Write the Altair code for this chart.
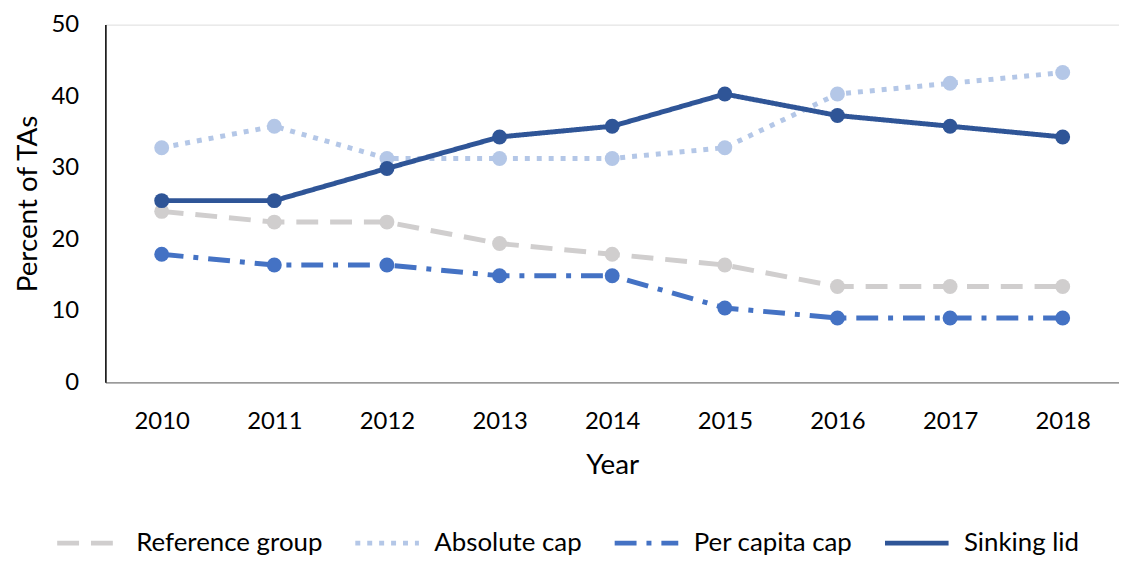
import altair as alt
import pandas as pd

years = ["2010", "2011", "2012", "2013", "2014", "2015", "2016", "2017", "2018"]
series_names = ["Reference group", "Absolute cap", "Per capita cap", "Sinking lid"]
reference_group = [23.9, 22.4, 22.4, 19.4, 17.9, 16.4, 13.4, 13.4, 13.4]
absolute_cap = [32.8, 35.8, 31.3, 31.3, 31.3, 32.8, 40.3, 41.8, 43.3]
per_capita_cap = [17.9, 16.4, 16.4, 14.9, 14.9, 10.4, 9.0, 9.0, 9.0]
sinking_lid = [25.4, 25.4, 29.9, 34.3, 35.8, 40.3, 37.3, 35.8, 34.3]
colors = ["#D0CECE", "#B4C7E7", "#4472C4", "#2F5597"]
dashes = [[22, 12], [5, 7], [22, 10, 5, 10], [1, 0]]

values = [reference_group, absolute_cap, per_capita_cap, sinking_lid]
rows = []
for i, (name, vals) in enumerate(zip(series_names, values)):
    for y, v in zip(years, vals):
        rows.append({"Year": y, "Percent": v, "Series": name, "order": i})
df = pd.DataFrame(rows)

FONT = "Lato"

x = alt.X("Year:O", sort=years, scale=alt.Scale(type="point", padding=0.5),
          axis=alt.Axis(title="Year", labelAngle=0, ticks=False, labelFontSize=24,
                        labelPadding=27, titleFontSize=28, titlePadding=19,
                        titleFontWeight="normal", domainColor="#7F7F7F", domainWidth=1.5,
                        labelColor="#000000", titleColor="#000000"))
y = alt.Y("Percent:Q", scale=alt.Scale(domain=[0, 50], nice=False),
          axis=alt.Axis(title="Percent of TAs", values=[0, 10, 20, 30, 40, 50], ticks=False,
                        grid=False, labelFontSize=24, labelPadding=27, titleFontSize=28,
                        titlePadding=8, titleFontWeight="normal", domainColor="#000000",
                        domainWidth=1.5, labelColor="#000000", titleColor="#000000"))
color_scale = alt.Scale(domain=series_names, range=colors)
color = alt.Color("Series:N", sort=series_names, scale=color_scale,
                  legend=alt.Legend(title=None, orient="none", direction="horizontal",
                                    legendX=-51, legendY=487, symbolType="stroke",
                                    symbolSize=4096, symbolStrokeWidth=5,
                                    labelFontSize=26, labelColor="#000000", labelLimit=400,
                                    columnPadding=22, labelOffset=13))
dash = alt.StrokeDash("Series:N", sort=series_names,
                      scale=alt.Scale(domain=series_names, range=dashes), legend=None)

lines = alt.Chart(df).mark_line(strokeWidth=5, strokeCap="butt").encode(
    x=x, y=y, color=color, strokeDash=dash, detail="Series:N")
points = alt.Chart(df).mark_point(filled=True, shape="circle", size=225, opacity=1).encode(
    x=x, y=y, color=alt.Color("Series:N", scale=color_scale, legend=None),
    order=alt.Order("order:Q"))

chart = alt.layer(lines, points).properties(
    width=1020, height=360,
    autosize=alt.AutoSizeParams(type="none"),
    padding={"left": 98, "top": 15, "right": 0, "bottom": 175},
).configure_view(stroke=None).configure(font=FONT)

chart.save("out.html", embed_options={"renderer": "svg", "actions": False})
